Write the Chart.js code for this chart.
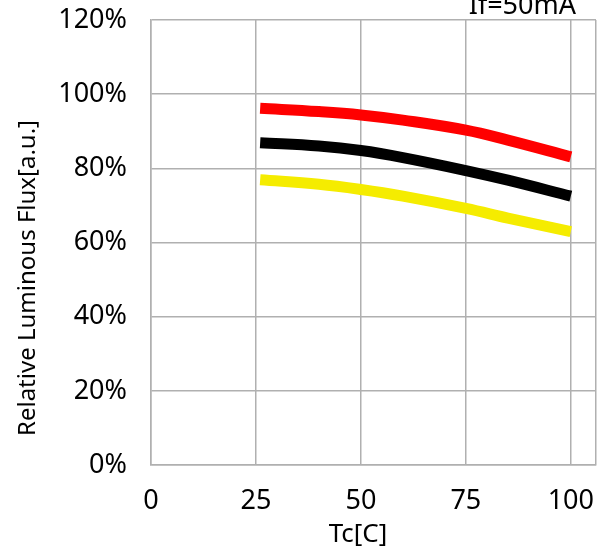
<!DOCTYPE html>
<html>
<head>
<meta charset="utf-8">
<script src="https://cdn.jsdelivr.net/npm/chart.js@4/dist/chart.umd.min.js"></script>
<style>
html,body{margin:0;padding:0;background:#fff;}
#wrap{width:603px;height:553px;position:relative;}
</style>
</head>
<body>
<div id="wrap"><canvas id="c" width="603" height="553"></canvas></div>
<script>
const temps = [26, 40, 50, 60, 75, 85, 100];
const redSeries = [96.2, 95.3, 94.4, 93.0, 90.3, 87.6, 83.1];
const blackSeries = [86.9, 86.0, 84.8, 82.9, 79.4, 76.8, 72.5];
const yellowSeries = [76.9, 75.7, 74.3, 72.5, 69.2, 66.6, 62.9];
const xTicks = [0, 25, 50, 75, 100];
const yTicks = [0, 20, 40, 60, 80, 100, 120];
const xMax = 106;
const chartTitle = 'If=50mA';
const xTitle = 'Tc[C]';
const yTitle = 'Relative Luminous Flux[a.u.]';

const FONT = "'Noto Sans', 'Open Sans', sans-serif";

function mk(vals, color) {
  return {
    data: temps.map((t, i) => ({x: t, y: vals[i]})),
    borderColor: color,
    backgroundColor: color,
    borderWidth: 11,
    pointRadius: 0,
    tension: 0.4,
    fill: false
  };
}

const texts = {
  id: 'texts',
  afterDraw(chart) {
    const ctx = chart.ctx;
    ctx.save();
    ctx.fillStyle = '#000';
    ctx.font = "27px " + FONT;
    ctx.textAlign = 'right';
    ctx.textBaseline = 'alphabetic';
    ctx.fillText(chartTitle, 576, 14);
    ctx.font = "26px " + FONT;
    ctx.textAlign = 'center';
    ctx.textBaseline = 'middle';
    ctx.fillText(xTitle, 358, 535);
    ctx.translate(28, 278);
    ctx.rotate(-Math.PI / 2);
    ctx.font = "24px " + FONT;
    ctx.fillText(yTitle, 0, 0);
    ctx.restore();
  }
};

new Chart(document.getElementById('c'), {
  type: 'line',
  data: {
    datasets: [mk(redSeries, '#ff0000'), mk(blackSeries, '#000000'), mk(yellowSeries, '#f5ec00')]
  },
  plugins: [texts],
  options: {
    responsive: false,
    animation: false,
    layout: {padding: {top: 20, right: 7, left: 0, bottom: 0}},
    plugins: {legend: {display: false}, tooltip: {enabled: false}},
    scales: {
      x: {
        type: 'linear',
        min: 0,
        max: xMax,
        afterBuildTicks(s) { s.ticks = xTicks.concat([xMax]).map(v => ({value: v})); },
        afterFit(s) { s.height = 88; s.paddingLeft = 0; s.paddingRight = 0; s.paddingTop = 0; s.paddingBottom = 0; },
        ticks: {
          callback: v => (xTicks.includes(v) ? String(v) : ''),
          font: {family: FONT, size: 27},
          color: '#000',
          padding: 20,
          maxRotation: 0,
          autoSkip: false
        },
        grid: {color: '#b0b0b0', lineWidth: 1.5, drawTicks: false},
        border: {color: '#b0b0b0', width: 1.5}
      },
      y: {
        min: 0,
        max: 120,
        afterBuildTicks(s) { s.ticks = yTicks.map(v => ({value: v})); },
        afterFit(s) { s.width = 151; s.paddingLeft = 0; s.paddingRight = 0; s.paddingTop = 0; s.paddingBottom = 0; },
        ticks: {
          callback: v => v + '%',
          font: {family: FONT, size: 27},
          color: '#000',
          padding: 24
        },
        grid: {color: '#b0b0b0', lineWidth: 1.5, drawTicks: false},
        border: {color: '#b0b0b0', width: 1.5}
      }
    }
  }
});
</script>
</body>
</html>
